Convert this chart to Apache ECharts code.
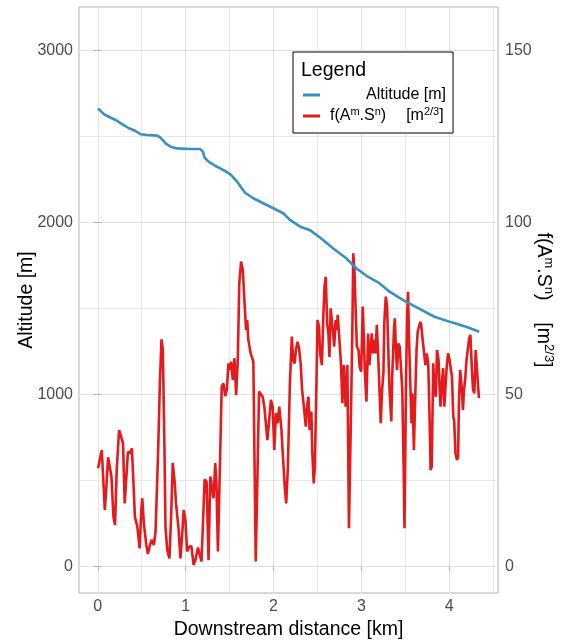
<!DOCTYPE html>
<html>
<head>
<meta charset="utf-8">
<script src="https://cdn.jsdelivr.net/npm/echarts@6/dist/echarts.min.js"></script>
<style>html,body{margin:0;padding:0;background:#fff}#c{width:568px;height:644px}</style>
</head>
<body>
<div id="c"></div>
<script>
// ---- data ----
const altKm = [0.003,0.072,0.147,0.204,0.28,0.355,0.43,0.487,0.563,0.676,0.713,0.77,0.827,0.90,1.053,1.166,1.196,1.215,1.26,1.336,1.43,1.506,1.58,1.638,1.676,1.77,1.883,1.997,2.11,2.186,2.318,2.41,2.525,2.676,2.827,2.94,3.072,3.205,3.32,3.47,3.65,3.83,4.036,4.19,4.34];
const altitude = [2665,2630,2610,2597,2572,2549,2533,2514,2510,2506,2494,2462,2442,2432,2428,2428,2413,2378,2355,2331,2306,2283,2242,2200,2174,2142,2113,2084,2055,2016,1973,1958,1915,1851,1793,1735,1686,1648,1599,1551,1502,1453,1419,1395,1366];

const fKm = [0.003,0.045,0.08,0.098,0.117,0.155,0.178,0.196,0.215,0.242,0.26,0.287,0.306,0.325,0.343,0.366,0.388,0.411,0.422,0.45,0.476,0.495,0.506,0.524,0.552,0.57,0.589,0.612,0.63,0.638,0.657,0.687,0.706,0.725,0.74,0.759,0.77,0.79,0.815,0.834,0.853,0.876,0.89,0.91,0.92,0.94,0.966,0.977,0.997,
1.016,1.042,1.065,1.09,1.11,1.14,1.16,1.18,1.198,1.216,1.238,1.26,1.28,1.30,1.317,1.336,1.35,1.367,1.385,1.41,1.43,1.45,1.468,1.487,1.506,1.517,1.536,1.555,1.574,1.593,1.61,1.63,1.65,1.668,1.687,1.70,1.713,1.74,1.77,1.797,1.815,1.835,1.857,1.876,1.895,1.914,1.93,1.95,1.97,1.99,2.008,2.027,2.046,2.065,
2.09,2.10,2.13,2.144,2.163,2.186,2.208,2.223,2.24,2.254,2.273,2.29,2.308,2.325,2.345,2.367,2.38,2.397,2.41,2.43,2.44,2.457,2.47,2.488,2.50,2.517,2.53,2.55,2.566,2.58,2.594,2.61,2.624,2.636,2.65,2.665,2.677,2.69,2.706,2.72,2.73,2.75,2.767,2.783,2.80,2.82,2.84,2.858,2.877,2.896,2.907,2.92,2.933,2.948,2.967,2.98,2.997,3.015,3.027,3.04,3.057,3.076,3.09,3.103,3.118,3.13,3.146,3.16,3.175,3.19,
3.205,3.22,3.235,3.25,3.26,3.277,3.292,3.31,3.32,3.34,3.35,3.37,3.38,3.394,3.405,3.42,3.435,3.45,3.465,3.48,3.49,3.507,3.52,3.53,3.54,3.556,3.57,3.58,3.597,3.61,3.627,3.64,3.653,3.67,3.68,3.697,3.71,3.728,3.743,3.76,3.775,3.787,3.80,3.817,3.83,3.846,3.86,3.877,3.89,3.90,3.915,3.93,3.943,3.96,3.97,3.986,4.0,4.015,4.03,4.045,4.055,4.07,4.087,4.1,4.11,4.124,4.14,4.155,4.167,4.18,4.196,4.21,4.226,4.24,4.257,4.27,4.285,4.3,4.315,4.337];
const fValue = [28.6,33.9,16.5,23.3,31.8,26.2,14.5,12.1,28.1,39.7,39.7,35.9,18.4,17.9,33.4,33.0,34.4,21.3,14.5,11.6,5.3,16.5,19.9,12.6,6.3,3.7,5.8,7.8,8.3,6.3,10.2,33.9,53.3,66.1,63,33.9,11.6,4.9,2.4,14.5,30.2,24.2,18.4,17.9,10.7,2.4,11.6,16.5,13.6,
4.4,5.8,6.0,0.5,1.9,5.6,3.4,1.5,1.5,25.4,24.7,1.9,26.2,25.7,19.9,30.1,24.2,4.4,24.2,52.3,53.3,49.6,51.4,59.1,57.2,59.6,54.3,60.6,49.9,60.1,82.4,88.7,86.2,77.5,68.8,71.7,65.9,62.0,59.6,1.5,24.2,50.9,50.4,49.4,46.5,46,36.8,36.8,48.5,46.5,33.9,44.6,41.7,46.5,
39.7,34.9,22.3,18.4,29.1,53.3,66.9,60.1,59.1,63,65.4,63.5,59.1,51.4,46.5,40.7,46.5,49.4,39.7,45.1,33.9,24.2,29.1,53.3,71.7,69.8,62.0,58.6,72.7,81.4,84.3,70.8,67.8,61.0,75.1,70.8,68.3,64,71.7,68.8,73.2,73.7,59.1,47.5,58.6,46.5,58.6,11.2,38.8,67.8,91.1,86.2,75.6,64,63,58.1,56.7,75.6,66.9,56.2,48,67.8,58.6,63,67.8,62,65.9,62,70.3,62,
51.4,41.7,51.4,56.2,70.8,78.5,75.6,59.1,51.4,42.2,55.2,68.8,72.2,62,57.2,64.9,64,57.7,51.4,29.1,11.2,53.3,72.7,79.9,67.8,53.3,41.7,50.4,33.9,47.5,63,68.3,68.8,71.2,70.3,65.9,65.4,58.6,62,59.1,43.6,28.1,29.1,59.1,51.4,49.4,63,60.1,51.4,46.5,53.3,57.7,46.5,46,58.1,62,60.6,60.1,55.2,43.6,42.6,33,31,32,48.5,57.2,52.3,45.6,51.4,54.3,60.1,63,66.4,67.4,57.2,51.4,50.4,63,57.2,49];

const xTicks = [0,1,2,3,4];
const xMinor = [0.5,1.5,2.5,3.5,4.5];
const altTicks = [0,1000,2000,3000];
const altMinor = [500,1500,2500];
const fTicks = [0,50,100,150];

// ---- chart ----
const FONT = '"Liberation Sans", Arial, Helvetica, sans-serif';
const xMin = -0.214, xMax = 4.554;
const altMin = -153, altMax = 3254;
const fMin = altMin / 20, fMax = altMax / 20;
const GRID = '#e3e3e3', BORDER = '#b3b3b3', LAB = '#4d4d4d';
const plain = v => String(v);

const altData = altKm.map((k, i) => [k, altitude[i]]);
const fData = fKm.map((k, i) => [k, fValue[i]]);

const chart = echarts.init(document.getElementById('c'), null, {renderer: 'canvas'});
chart.setOption({
  animation: false,
  backgroundColor: '#fff',
  textStyle: {fontFamily: FONT},
  grid: {left: 79, right: 70, top: 7, bottom: 51, containLabel: false, outerBoundsMode: 'none',
         show: true, borderColor: BORDER, borderWidth: 1, backgroundColor: 'transparent'},
  title: {
    text: 'Legend', left: 301, top: 59.5, padding: 0, z: 20,
    textStyle: {fontFamily: FONT, fontSize: 19.5, fontWeight: 'normal', color: '#000', lineHeight: 22}
  },
  legend: {
    orient: 'vertical', left: 293, top: 52,
    padding: [35, 7, 9, 10], itemGap: 3,
    backgroundColor: '#fff', borderColor: '#000', borderWidth: 1, borderRadius: 0,
    itemWidth: 17, itemHeight: 3, icon: 'rect',
    data: ['alt', 'f'],
    formatter: function (name) {
      if (name === 'alt') return '{sp1|}{t|Altitude [m]}';
      return '{sp2|}{t|f(A}{s|m}{t|.S}{s|n}{t|)}{sp3|}{t|[m}{s|2/3}{t|]}';
    },
    textStyle: {
      fontFamily: FONT, fontSize: 16, color: '#000',
      rich: {
        t: {fontFamily: FONT, fontSize: 16, lineHeight: 20, color: '#000'},
        s: {fontFamily: FONT, fontSize: 11, lineHeight: 11, verticalAlign: 'top', color: '#000'},
        sp1: {width: 41},
        sp2: {width: 5},
        sp3: {width: 20}
      }
    }
  },
  xAxis: [{
    type: 'value', min: xMin, max: xMax,
    name: 'Downstream distance [km]', nameLocation: 'middle', nameGap: 22,
    nameTextStyle: {fontFamily: FONT, fontSize: 19.5, color: '#000'},
    axisLine: {show: false},
    axisTick: {show: true, length: 4, customValues: xTicks, lineStyle: {color: BORDER}},
    axisLabel: {customValues: xTicks, formatter: plain, fontFamily: FONT, fontSize: 16, color: LAB, margin: 6},
    splitLine: {show: true, lineStyle: {color: GRID, width: 1}}
  }, {
    type: 'value', min: xMin, max: xMax, position: 'top',
    axisLine: {show: false},
    axisTick: {show: false, customValues: xMinor},
    axisLabel: {show: false, customValues: xMinor},
    splitLine: {show: true, lineStyle: {color: GRID, width: 0.8}}
  }],
  yAxis: [{
    type: 'value', min: altMin, max: altMax, position: 'left',
    name: 'Altitude [m]', nameLocation: 'middle', nameGap: 42, nameRotate: 90, nameMoveOverlap: false,
    nameTextStyle: {fontFamily: FONT, fontSize: 19.5, color: '#000'},
    axisLine: {show: false},
    axisTick: {show: true, length: 4, customValues: altTicks, lineStyle: {color: BORDER}},
    axisLabel: {customValues: altTicks, formatter: plain, fontFamily: FONT, fontSize: 16, color: LAB, margin: 6},
    splitLine: {show: true, lineStyle: {color: GRID, width: 1}}
  }, {
    type: 'value', min: fMin, max: fMax, position: 'right',
    name: '{t|f(A}{s|m}{t|.S}{s|n}{t|)}{sp|}{t|[m}{s|2/3}{t|]}',
    nameLocation: 'middle', nameGap: 33, nameRotate: -90, nameMoveOverlap: false,
    nameTextStyle: {
      fontFamily: FONT, fontSize: 19.5, color: '#000',
      rich: {
        t: {fontFamily: FONT, fontSize: 19.5, lineHeight: 24, color: '#000'},
        s: {fontFamily: FONT, fontSize: 13, lineHeight: 13, verticalAlign: 'top', color: '#000'},
        sp: {width: 22}
      }
    },
    axisLine: {show: false},
    axisTick: {show: true, length: 4, customValues: fTicks, lineStyle: {color: BORDER}},
    axisLabel: {customValues: fTicks, formatter: plain, fontFamily: FONT, fontSize: 16, color: LAB, margin: 7},
    splitLine: {show: false}
  }, {
    type: 'value', min: altMin, max: altMax, position: 'left',
    axisLine: {show: false},
    axisTick: {show: false, customValues: altMinor},
    axisLabel: {show: false, customValues: altMinor},
    splitLine: {show: true, lineStyle: {color: GRID, width: 0.8}}
  }],
  series: [{
    name: 'alt', type: 'line', xAxisIndex: 0, yAxisIndex: 0,
    data: altData, showSymbol: false, symbol: 'none', smooth: false,
    lineStyle: {color: '#3a8fc3', width: 2.6}, itemStyle: {color: '#3a8fc3'}, z: 3
  }, {
    name: 'f', type: 'line', xAxisIndex: 0, yAxisIndex: 1,
    data: fData, showSymbol: false, symbol: 'none', smooth: false,
    lineStyle: {color: '#e41a1c', width: 2.6}, itemStyle: {color: '#e41a1c'}, z: 2
  }]
});
</script>
</body>
</html>
